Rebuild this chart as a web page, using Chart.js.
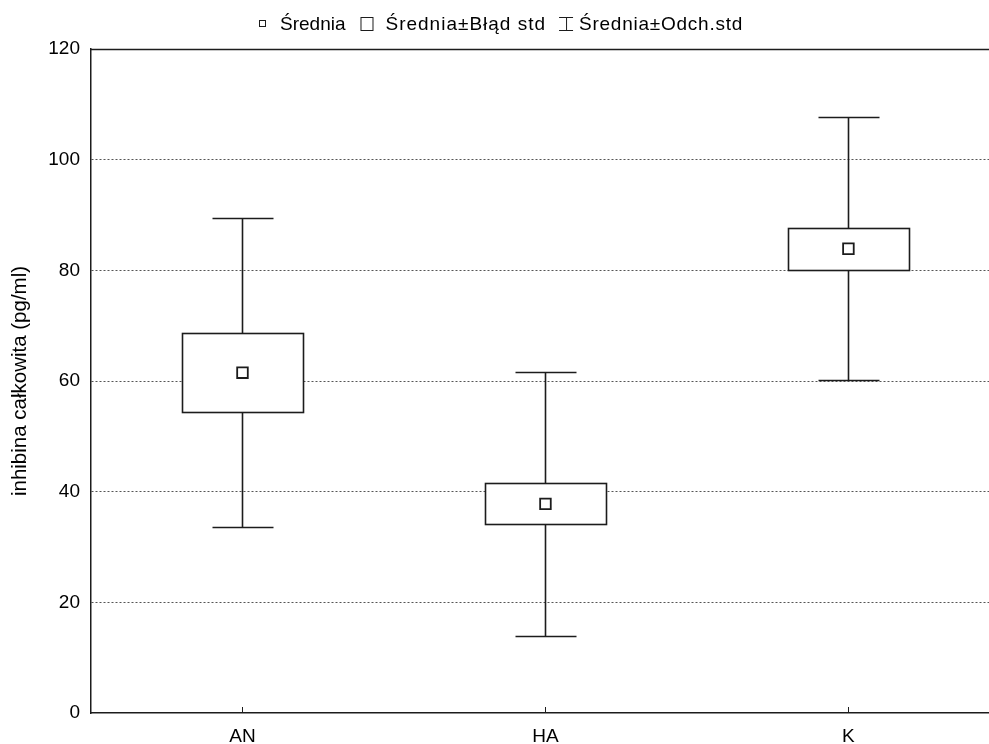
<!DOCTYPE html>
<html><head><meta charset="utf-8">
<script src="https://cdn.jsdelivr.net/npm/chart.js@4/dist/chart.umd.min.js"></script>
<style>html,body{margin:0;padding:0;background:#fff;overflow:hidden}#wrap{width:989px;height:744px;position:relative}</style>
</head><body><div id="wrap"><canvas id="c"></canvas></div>
<script>
const categories = ['AN', 'HA', 'K'];
const means  = [61.5, 37.8, 83.9];
const seLow  = [54.4, 34.2, 80.1];
const seHigh = [68.7, 41.5, 87.7];
const sdLow  = [33.7, 14.0, 60.2];
const sdHigh = [89.4, 61.6, 107.8];
const yTicks = [0, 20, 40, 60, 80, 100, 120];
const legendLabels = ['Średnia', 'Średnia±Błąd std', 'Średnia±Odch.std'];
const yTitle = 'inhibina całkowita (pg/ml)';

const FONT = '"Liberation Sans", Arial, sans-serif';
const INK = '#1c1c1c';
const BOX_HALF = 0.2, CAP_HALF = 0.1;

const boxPlugin = {
  id: 'boxPlugin',
  beforeDatasetsDraw(chart) {
    const {ctx, scales: {x, y}} = chart;
    ctx.save();
    ctx.strokeStyle = INK;
    ctx.lineWidth = 1.6;
    categories.forEach((c, i) => {
      const cx = Math.round(x.getPixelForValue(i)) + 0.5;
      const bl = Math.round(x.getPixelForValue(i - BOX_HALF)) + 0.5;
      const br = Math.round(x.getPixelForValue(i + BOX_HALF)) + 0.5;
      const cl = Math.round(x.getPixelForValue(i - CAP_HALF)) + 0.5;
      const cr = Math.round(x.getPixelForValue(i + CAP_HALF)) + 0.5;
      const yT = Math.round(y.getPixelForValue(sdHigh[i])) + 0.5;
      const yB = Math.round(y.getPixelForValue(sdLow[i])) + 0.5;
      const bT = Math.round(y.getPixelForValue(seHigh[i])) + 0.5;
      const bB = Math.round(y.getPixelForValue(seLow[i])) + 0.5;
      ctx.beginPath();
      ctx.moveTo(cx, yT); ctx.lineTo(cx, bT);
      ctx.moveTo(cx, bB); ctx.lineTo(cx, yB);
      ctx.moveTo(cl, yT); ctx.lineTo(cr, yT);
      ctx.moveTo(cl, yB); ctx.lineTo(cr, yB);
      ctx.stroke();
      ctx.fillStyle = '#fff';
      ctx.fillRect(bl, bT, br - bl, bB - bT);
      ctx.strokeRect(bl, bT, br - bl, bB - bT);
    });
    ctx.restore();
  },
  afterDraw(chart) {
    const {ctx, chartArea, scales: {x}} = chart;
    ctx.save();
    ctx.strokeStyle = INK;
    ctx.lineWidth = 1.5;
    ctx.beginPath();
    ctx.moveTo(chartArea.left, chartArea.top + 0.5);
    ctx.lineTo(chartArea.right, chartArea.top + 0.5);
    ctx.stroke();
    ctx.lineWidth = 1;
    ctx.beginPath();
    categories.forEach((c, i) => {
      const px = Math.round(x.getPixelForValue(i)) + 0.5;
      ctx.moveTo(px, chartArea.bottom);
      ctx.lineTo(px, chartArea.bottom - 6);
    });
    ctx.stroke();
    // legend
    ctx.font = '19px ' + FONT;
    ctx.fillStyle = '#000';
    ctx.textBaseline = 'alphabetic';
    const base = 30;
    let cx = 259;
    ctx.lineWidth = 1;
    ctx.strokeRect(cx + 0.5, 20.5, 6, 6);
    cx += 6 + 15;
    ctx.fillText(legendLabels[0], cx, base);
    cx += ctx.measureText(legendLabels[0]).width + 15;
    ctx.strokeRect(cx + 0.5, 17.5, 12, 13);
    cx += 12 + 13;
    if ('letterSpacing' in ctx) ctx.letterSpacing = '1px';
    ctx.fillText(legendLabels[1], cx, base);
    cx += ctx.measureText(legendLabels[1]).width + 13;
    ctx.beginPath();
    ctx.moveTo(cx, 17.5); ctx.lineTo(cx + 14, 17.5);
    ctx.moveTo(cx, 30.5); ctx.lineTo(cx + 14, 30.5);
    ctx.moveTo(cx + 7.5, 17.5); ctx.lineTo(cx + 7.5, 30.5);
    ctx.stroke();
    cx += 14 + 6;
    if ('letterSpacing' in ctx) ctx.letterSpacing = '0.75px';
    ctx.fillText(legendLabels[2], cx, base);
    ctx.restore();
  }
};

new Chart(document.getElementById('c'), {
  type: 'scatter',
  data: {
    datasets: [{
      label: legendLabels[0],
      data: means.map((m, i) => ({x: i, y: m})),
      pointStyle: 'rect',
      pointRadius: 7.5,
      pointHoverRadius: 7.5,
      pointBorderWidth: 1.8,
      backgroundColor: '#fff',
      borderColor: INK
    }]
  },
  options: {
    responsive: true,
    maintainAspectRatio: false,
    animation: false,
    events: [],
    layout: {autoPadding: false, padding: {top: 49, left: 0, right: 0, bottom: 0}},
    plugins: {legend: {display: false}, tooltip: {enabled: false}},
    scales: {
      x: {
        type: 'linear',
        min: -0.5,
        max: 2.464,
        afterBuildTicks: s => { s.ticks = categories.map((c, i) => ({value: i})); },
        afterFit: s => { s.height = 31; },
        grid: {display: false, drawTicks: false},
        border: {display: true, color: INK, width: 1.5},
        ticks: {
          callback: v => categories[v],
          font: {family: FONT, size: 19},
          color: '#000',
          padding: 12,
          maxRotation: 0,
          autoSkip: false
        }
      },
      y: {
        min: 0,
        max: 120,
        afterBuildTicks: s => { s.ticks = yTicks.map(v => ({value: v})); },
        afterFit: s => { s.width = 91; },
        grid: {
          drawTicks: false,
          color: ctx => (ctx.tick && (ctx.tick.value === 0 || ctx.tick.value === 120)) ? 'rgba(0,0,0,0)' : '#555',
          lineWidth: 1
        },
        border: {display: true, color: INK, width: 1.5, dash: [2, 2]},
        ticks: {
          font: {family: FONT, size: 19},
          color: '#000',
          padding: 11
        },
        title: {
          display: true,
          text: yTitle,
          font: {family: FONT, size: 20.5},
          color: '#000',
          padding: {top: 8, bottom: 0}
        }
      }
    }
  },
  plugins: [boxPlugin]
});
</script>
</body></html>
